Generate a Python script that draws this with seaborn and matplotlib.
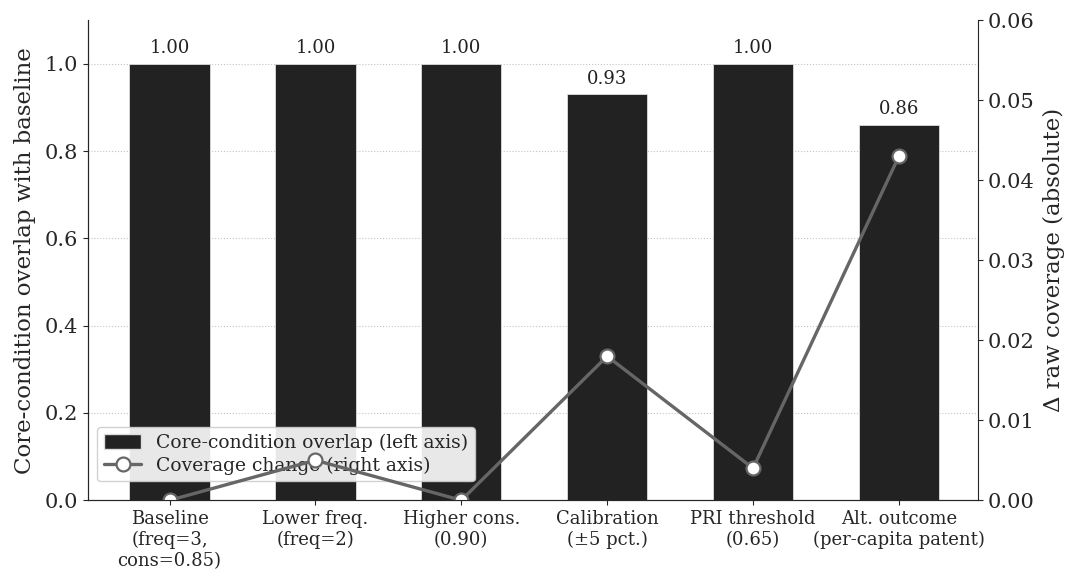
import matplotlib
matplotlib.use("Agg")
import matplotlib.pyplot as plt
import seaborn as sns
import pandas as pd
from matplotlib.patches import Patch
from matplotlib.lines import Line2D

# scenario labels and values
scenarios = [
    "Baseline\n(freq=3,\ncons=0.85)",
    "Lower freq.\n(freq=2)",
    "Higher cons.\n(0.90)",
    "Calibration\n(\u00b15 pct.)",
    "PRI threshold\n(0.65)",
    "Alt. outcome\n(per-capita patent)",
]
overlap = [1.00, 1.00, 1.00, 0.93, 1.00, 0.86]
coverage_change = [0.000, 0.005, 0.000, 0.018, 0.004, 0.043]

df = pd.DataFrame({"scenario": scenarios, "overlap": overlap, "coverage": coverage_change})

sns.set_style("ticks")
plt.rcParams["font.family"] = ["DejaVu Serif"]

fig, ax = plt.subplots(figsize=(10.72, 5.77), dpi=100)
fig.subplots_adjust(left=0.082, right=0.912, top=0.965, bottom=0.133)

sns.barplot(data=df, x="scenario", y="overlap", color="#222222", width=0.55,
            edgecolor="#dddddd", linewidth=0.6, saturation=1, ax=ax, zorder=2)
ax.set_ylim(0, 1.1)
ax.set_xlim(-0.56, 5.54)
ax.set_xlabel("")
ax.set_ylabel("Core-condition overlap with baseline", fontsize=16.5, labelpad=6)
ax.tick_params(axis="x", labelsize=13)
ax.tick_params(axis="y", labelsize=15)
ax.yaxis.grid(True, linestyle=":", color="#c4c4c4", linewidth=0.8)
ax.set_axisbelow(True)
ax.spines["top"].set_visible(False)
ax.spines["right"].set_visible(False)

for i, v in enumerate(overlap):
    ax.text(i, v + 0.015, f"{v:.2f}", ha="center", va="bottom", fontsize=13, color="#222222")

ax2 = ax.twinx()
sns.lineplot(x=list(range(len(scenarios))), y=coverage_change, ax=ax2, color="#666666",
             linewidth=2.4, marker="o", markersize=10, markerfacecolor="white",
             markeredgecolor="#666666", markeredgewidth=1.6)
ax2.set_ylim(0, 0.06)
ax2.set_ylabel("\u0394 raw coverage (absolute)", fontsize=16.5, labelpad=6)
ax2.tick_params(axis="y", labelsize=15)
ax2.spines["top"].set_visible(False)

handles = [
    Patch(facecolor="#222222", edgecolor="#dddddd", label="Core-condition overlap (left axis)"),
    Line2D([], [], color="#666666", linewidth=2.4, marker="o", markersize=10,
           markerfacecolor="white", markeredgecolor="#666666", markeredgewidth=1.6,
           label="Coverage change (right axis)"),
]
ax.legend(handles=handles, loc="lower left", bbox_to_anchor=(0.0, 0.02), fontsize=13.5,
          frameon=True, framealpha=0.9, handlelength=2.0, handleheight=0.9,
          borderpad=0.35, labelspacing=0.25)

fig.savefig("out.png", dpi=100)
